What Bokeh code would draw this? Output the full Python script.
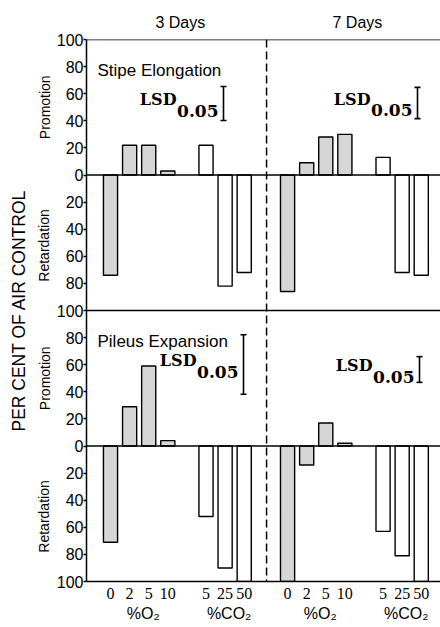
from bokeh.plotting import figure
from bokeh.models import Range1d, Span, Label, FixedTicker, LinearAxis
from bokeh.embed import file_html
from bokeh.resources import INLINE

# ---------------- data ----------------
days = ["3 Days", "7 Days"]
conc_labels = ["0", "2", "5", "10", "5", "25", "50"]
gas = ["O2", "O2", "O2", "O2", "CO2", "CO2", "CO2"]
gas_labels = ["%O₂", "%CO₂"]

stipe_3d = [-74, 22, 22, 3, 22, -82, -72]
stipe_7d = [-86, 9, 28, 30, 13, -72, -74]
pileus_3d = [-71, 29, 59, 4, -52, -90, -100]
pileus_7d = [-100, -14, 17, 2, -63, -81, -100]

lsd_stipe = [25, 23]      # 3 days, 7 days
lsd_pileus = [44, 19]

panel_names = ["Stipe Elongation", "Pileus Expansion"]
y_ticks = list(range(-100, 301, 20))

# ---------------- layout ----------------
slots = [0, 1, 2, 3, 5, 6, 7]
day_offset = [0.0, 9.27]
X0, X1 = -1.257, 17.277
FRAME_W, FRAME_H = 354, 542
SX = (X1 - X0) / FRAME_W          # data units per pixel (x)
SY = 400.0 / FRAME_H              # data units per pixel (y)
panel_offset = [200, 0]           # top panel, bottom panel


def xd(px):
    return X0 + (px - 86) * SX


def yd(py):
    return 300 - (py - 39) * SY


SANS = "Liberation Sans"
NARROW = "Liberation Sans Narrow"
SERIF = "DejaVu Serif"

p = figure(width=440, height=627, x_range=Range1d(X0, X1), y_range=Range1d(-100, 300),
           output_backend="svg", toolbar_location=None,
           min_border_left=86, min_border_right=0, min_border_top=39, min_border_bottom=46)
p.outline_line_color = None
p.xgrid.visible = False
p.ygrid.visible = False
p.background_fill_color = "white"
p.border_fill_color = "white"

# bars
series = [[stipe_3d, stipe_7d], [pileus_3d, pileus_7d]]
xs, tops, bottoms, fills = [], [], [], []
for pi, pair in enumerate(series):
    for di, vals in enumerate(pair):
        for s, v, g in zip(slots, vals, gas):
            xs.append(s + day_offset[di])
            tops.append(panel_offset[pi] + v)
            bottoms.append(panel_offset[pi])
            fills.append("#d6d6d6" if g == "O2" else "white")
p.vbar(x=xs, top=tops, bottom=bottoms, width=0.74, fill_color=fills,
       line_color="black", line_width=1.4)

# horizontal rules
for loc in [300, 200, 100, 0]:
    p.add_layout(Span(location=loc, dimension="width", line_color="black", line_width=1.5))
# dashed divider
p.add_layout(Span(location=8.17, dimension="height", line_color="black",
                  line_width=1.5, line_dash="8 4"))


def plain(ax, size="16px", font=SANS):
    ax.major_tick_in = 0
    ax.minor_tick_line_color = None
    ax.major_label_text_font = font
    ax.major_label_text_font_size = size
    ax.major_label_text_color = "black"


# left numeric axis
p.yaxis.ticker = FixedTicker(ticks=y_ticks)
p.yaxis.major_label_overrides = {t: str(abs(t) if t <= 100 else abs(t - 200)) for t in y_ticks}
plain(p.yaxis[0])
p.yaxis.major_tick_out = 3
p.yaxis.axis_line_width = 1.5
p.yaxis.major_tick_line_width = 1.5
p.yaxis.major_label_standoff = 0

# left: Promotion / Retardation + overall label
side_ticks = [250, 148, 50, -52]
side_axis = LinearAxis(ticker=FixedTicker(ticks=side_ticks),
                       major_label_overrides={250: "Promotion", 148: "Retardation",
                                              50: "Promotion", -52: "Retardation"})
plain(side_axis, "14px")
side_axis.major_tick_out = 0
side_axis.axis_line_color = None
side_axis.major_label_orientation = "vertical"
side_axis.major_label_standoff = 1
side_axis.axis_label = "PER CENT OF AIR CONTROL"
side_axis.axis_label_text_font = SANS
side_axis.axis_label_text_font_size = "17.5px"
side_axis.axis_label_text_font_style = "normal"
side_axis.axis_label_text_color = "black"
side_axis.axis_label_standoff = 5
p.add_layout(side_axis, "left")

# bottom concentration axis
bx = [s + o for o in day_offset for s in slots]
p.xaxis.ticker = FixedTicker(ticks=bx)
p.xaxis.major_label_overrides = {x: lab for x, lab in zip(bx, conc_labels * 2)}
plain(p.xaxis[0], "16px", NARROW)
p.xaxis.major_tick_out = 0
p.xaxis.axis_line_width = 1.5
p.xaxis.major_label_standoff = 6

# bottom gas axis
gx, glab = [], {}
for o in day_offset:
    for (a, b), lab in zip([(0, 3), (4, 6)], gas_labels):
        c = (slots[a] + slots[b]) / 2 + o + 4 * SX
        gx.append(c)
        glab[c] = lab
gas_axis = LinearAxis(ticker=FixedTicker(ticks=gx), major_label_overrides=glab)
plain(gas_axis, "16px")
gas_axis.major_tick_out = 0
gas_axis.axis_line_color = None
gas_axis.major_label_standoff = 3
p.add_layout(gas_axis, "below")

# top day axis
dx = [(slots[0] + slots[-1]) / 2 + o + 3 * SX for o in day_offset]
day_axis = LinearAxis(ticker=FixedTicker(ticks=dx),
                      major_label_overrides={x: d for x, d in zip(dx, days)})
plain(day_axis, "16px")
day_axis.major_tick_out = 0
day_axis.axis_line_color = None
day_axis.major_label_standoff = 9
p.add_layout(day_axis, "above")

# panel titles
for pi, name in enumerate(panel_names):
    p.add_layout(Label(x=xd(97), y=panel_offset[pi] + 100 - 23, text=name, text_font=SANS,
                       text_font_size="17px", text_color="black",
                       text_align="left", text_baseline="middle"))

# LSD bars and labels
lsd_all = [lsd_stipe, lsd_pileus]
lsd_bar_px = [[(223, 103), (417, 102.5)], [(243, 364), (419, 369)]]
cap = 3 * SX
for pi in range(2):
    for di in range(2):
        bpx, bpy = lsd_bar_px[pi][di]
        xb = xd(bpx)
        yc = yd(bpy)
        half = lsd_all[pi][di] / 2
        p.segment(x0=[xb, xb - cap, xb - cap], y0=[yc - half, yc - half, yc + half],
                  x1=[xb, xb + cap, xb + cap], y1=[yc + half, yc - half, yc + half],
                  line_color="black", line_width=1.6)
        sub_right = xd(bpx - 5)
        sub_w = 2.47 * 17 * SX
        p.add_layout(Label(x=sub_right, y=yc - 7 * SY, text="0.05", text_font=SERIF,
                           text_font_style="bold", text_font_size="17px", text_color="black",
                           text_align="right", text_baseline="middle"))
        p.add_layout(Label(x=sub_right - sub_w, y=yc + 4 * SY, text="LSD", text_font=SERIF,
                           text_font_style="bold", text_font_size="16px", text_color="black",
                           text_align="right", text_baseline="middle"))

open("out.html", "w").write(file_html(p, INLINE))
